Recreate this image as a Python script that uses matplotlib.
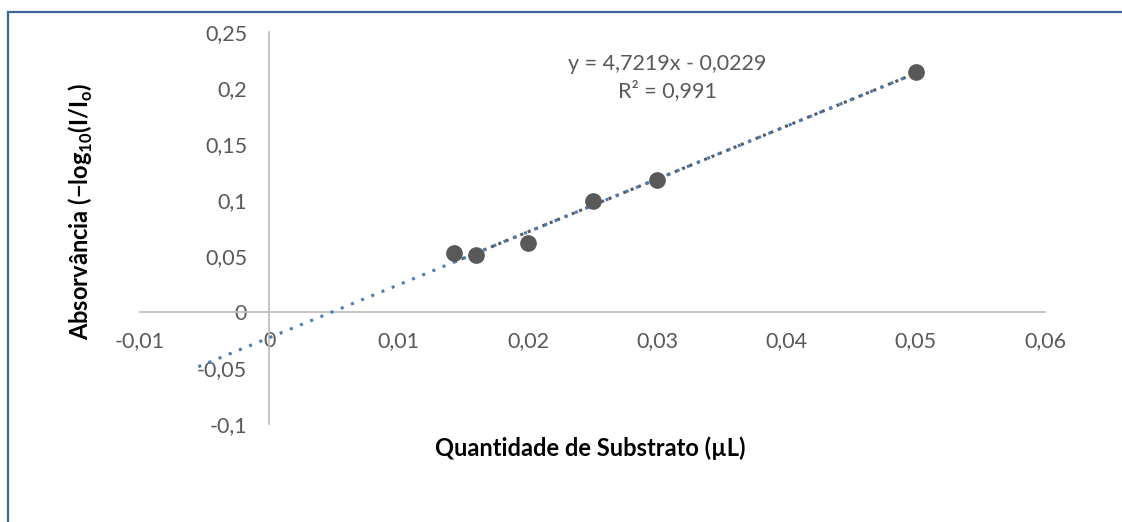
import matplotlib.pyplot as plt
from matplotlib.lines import Line2D

plt.rcParams["font.family"] = ["Lato", "DejaVu Sans"]
plt.rcParams["mathtext.fontset"] = "custom"
plt.rcParams["mathtext.rm"] = "Lato"
plt.rcParams["mathtext.bf"] = "Lato:bold"

# substrate volume vs absorbance
quantidade = [0.0143, 0.016, 0.020, 0.025, 0.030, 0.050]
absorvancia = [0.053, 0.051, 0.062, 0.099, 0.118, 0.214]

# linear trendline
slope = 4.7219
intercept = -0.0229
r2 = 0.991
trend_start = -0.006

xticks = [-0.01, 0, 0.01, 0.02, 0.03, 0.04, 0.05, 0.06]
yticks = [-0.1, -0.05, 0, 0.05, 0.1, 0.15, 0.2, 0.25]


def virgula(v):
    s = f"{v:g}"
    return s.replace(".", ",")


fig = plt.figure(figsize=(11.22, 5.22), dpi=100)
ax = fig.add_axes([0.1248, 0.1877, 0.8066, 0.751])

grey = "#595959"

# gray fit over the data range, blue extended one on top
xa = [min(quantidade), max(quantidade)]
ax.plot(xa, [slope * v + intercept for v in xa], color=grey,
        linestyle=(0, (1, 1.6)), linewidth=2.2, zorder=2)
xb = [trend_start, max(quantidade)]
ax.plot(xb, [slope * v + intercept for v in xb], color="#4a7ebb",
        linestyle=(1.3, (1, 2.6)), linewidth=2.2, zorder=3)

ax.plot(quantidade, absorvancia, "o", color=grey, markersize=11, zorder=4)

ax.set_xlim(-0.01, 0.06)
ax.set_ylim(-0.1, 0.25)
ax.set_xticks(xticks)
ax.set_yticks(yticks)
ax.set_xticklabels([virgula(v) for v in xticks])
ax.set_yticklabels([virgula(v) for v in yticks])

for side in ["top", "right"]:
    ax.spines[side].set_visible(False)
for side in ["left", "bottom"]:
    ax.spines[side].set_position(("data", 0))
    ax.spines[side].set_color("#bfbfbf")
    ax.spines[side].set_linewidth(1.3)
ax.tick_params(length=0, labelsize=15.5, labelcolor=grey)
ax.tick_params(axis="x", pad=14)
ax.tick_params(axis="y", pad=16)

ax.text(0.0308, 0.221, f"y = {virgula(slope)}x - {virgula(-intercept)}",
        ha="center", va="center", fontsize=15.5, color=grey)
ax.text(0.0308, 0.198, f"R² = {virgula(r2)}",
        ha="center", va="center", fontsize=15.5, color=grey)

fig.text(0.526, 0.142, "Quantidade de Substrato (µL)", ha="center",
         va="center", fontsize=17, fontweight="bold")
fig.text(0.072, 0.595,
         r"Absorvância (−log$_{\mathbf{10}}$(I/I$_{\mathbf{o}}$)",
         rotation=90, ha="center", va="center", fontsize=17,
         fontweight="bold")

# frame edges
fig.add_artist(Line2D([8 / 1122, 1], [1 - 12 / 522, 1 - 12 / 522],
                      color="#41679a", linewidth=1.6))
fig.add_artist(Line2D([8 / 1122, 8 / 1122], [0, 1 - 12 / 522],
                      color="#41679a", linewidth=1.6))

fig.savefig("out.png", dpi=100)
